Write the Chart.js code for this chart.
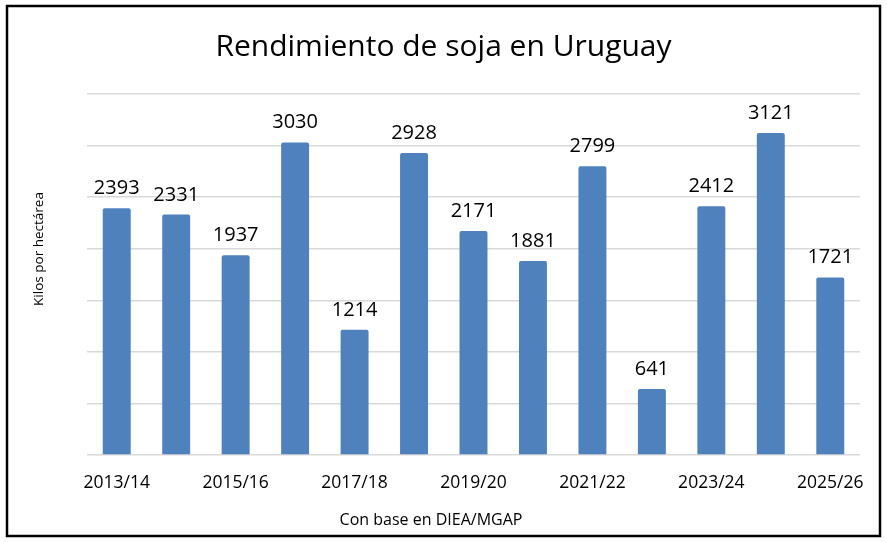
<!DOCTYPE html>
<html>
<head>
<meta charset="utf-8">
<script src="https://cdn.jsdelivr.net/npm/chart.js@4"></script>
<style>
  html, body { margin: 0; padding: 0; background: #fff; }
  canvas { display: block; }
</style>
</head>
<body>
<canvas id="grafico" width="887" height="542"></canvas>
<script>
// Datos
const zafras = ["2013/14", "2014/15", "2015/16", "2016/17", "2017/18", "2018/19", "2019/20",
  "2020/21", "2021/22", "2022/23", "2023/24", "2024/25", "2025/26"];
const rendimiento = [2393, 2331, 1937, 3030, 1214, 2928, 2171, 1881, 2799, 641, 2412, 3121, 1721];
const tituloEjeY = "Kilos por hectárea";
const tituloEjeX = "Con base en DIEA/MGAP";

const fuente = "'Open Sans', sans-serif";

// Etiquetas encima de cada barra, títulos de ejes y marco exterior
const etiquetas = {
  id: "etiquetas",
  afterDatasetsDraw(chart) {
    const ctx = chart.ctx;
    const meta = chart.getDatasetMeta(0);
    ctx.save();
    ctx.font = "20px " + fuente;
    ctx.fillStyle = "#000";
    ctx.textAlign = "center";
    ctx.textBaseline = "alphabetic";
    meta.data.forEach((bar, i) => {
      ctx.fillText(chart.data.datasets[0].data[i], bar.x, bar.y - 14);
    });
    ctx.restore();
  },
  afterDraw(chart) {
    const ctx = chart.ctx;
    ctx.save();
    ctx.fillStyle = "#000";
    ctx.textAlign = "center";
    ctx.textBaseline = "middle";
    // fuente, abajo (Excel la deja algo a la izquierda)
    ctx.font = "16px " + fuente;
    ctx.fillText(tituloEjeX, 431, 520);
    // título del eje Y (algo más arriba del centro)
    ctx.translate(39, 249);
    ctx.rotate(-Math.PI / 2);
    ctx.font = "13.5px " + fuente;
    ctx.fillText(tituloEjeY, 0, 0);
    ctx.restore();

    ctx.save();
    ctx.strokeStyle = "#000";
    ctx.lineWidth = 2.5;
    ctx.strokeRect(7, 6, 873, 530);
    ctx.restore();
  },
};

let barras = new Chart(document.getElementById("grafico"), {
  type: "bar",
  data: {
    labels: zafras,
    datasets: [
      {
        data: rendimiento,
        backgroundColor: "#4F81BD",
        categoryPercentage: 1,
        barPercentage: 0.47,
        borderRadius: { topLeft: 2, topRight: 2 },
      },
    ],
  },
  options: {
    responsive: false,
    animation: false,
    layout: { padding: { left: 27, right: 27, top: 0, bottom: 31 } },
    plugins: {
      legend: { display: false },
      tooltip: { enabled: false },
      title: {
        display: true,
        text: "Rendimiento de soja en Uruguay",
        color: "#000",
        font: { family: fuente, size: 30, weight: "normal" },
        padding: { top: 29, bottom: 29 },
      },
    },
    scales: {
      x: {
        grid: { display: false },
        border: { display: false },
        ticks: {
          autoSkip: false,
          maxRotation: 0,
          color: "#000",
          padding: 10,
          font: { family: fuente, size: 17.5 },
          callback: function (v, i) {
            return i % 2 === 0 ? this.getLabelForValue(v) : "";
          },
        },
        afterFit(scale) {
          scale.height = 56;
        },
      },
      y: {
        min: 0,
        max: 3500,
        grid: { color: "#D9D9D9", lineWidth: 1.5, drawTicks: false },
        border: { display: false },
        ticks: { display: false, stepSize: 500 },
        afterFit(scale) {
          scale.width = 60;
        },
      },
    },
  },
  plugins: [etiquetas],
});
</script>
</body>
</html>
